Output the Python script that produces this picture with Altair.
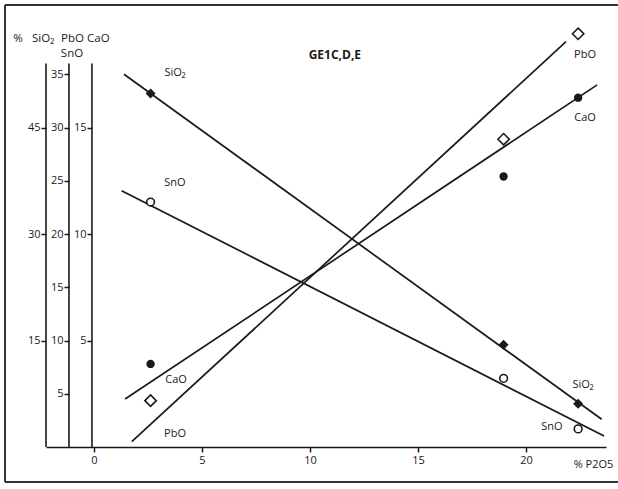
import altair as alt
import pandas as pd

FONT = "Open Sans"
INK = "#1a1a1a"

# P2O5 content (%) of the three samples
p2o5 = [2.62, 18.96, 22.41]
# oxide contents (%) of the samples
sio2 = [49.8, 14.4, 6.1]
sno = [23.0, 6.45, 1.7]
cao = [3.9, 12.7, 16.4]
pbo = [4.35, 28.9, 38.8]

# fitted trend lines: end points (P2O5 %, oxide %)
fit_x = {"SiO₂": [1.39, 23.5], "SnO": [1.28, 23.61], "CaO": [1.44, 23.29], "PbO": [1.75, 21.85]}
fit_y = {"SiO₂": [52.5, 3.9], "SnO": [24.07, 1.03], "CaO": [2.25, 17.0], "PbO": [0.5, 38.06]}

# curve labels (P2O5 %, oxide %)
lab_x = {"SiO₂": [3.75, 22.64], "SnO": [3.75, 21.2], "CaO": [3.8, 22.73], "PbO": [3.75, 22.73]}
lab_y = {"SiO₂": [52.7, 8.7], "SnO": [24.8, 1.88], "CaO": [3.15, 15.45], "PbO": [1.22, 36.8]}

# axis scales
x_domain = [-2.22, 23.7]
x_ticks = [0, 5, 10, 15, 20]
sio2_domain, sio2_ticks = [0, 60], [15, 30, 45]
pbo_domain, pbo_ticks = [0, 40], [5, 10, 15, 20, 25, 30, 35]
cao_domain, cao_ticks = [0, 20], [5, 10, 15]
axis_pos = [-2.22, -1.157, -0.093]   # P2O5 positions of the SiO2, PbO/SnO, CaO axes
axis_top = 36.0                      # top of the axis lines (PbO units)

W, H = 560, 426


def off(xpos):
    return -round((xpos - x_domain[0]) / (x_domain[1] - x_domain[0]) * W)


x_axis = alt.Axis(values=x_ticks, title="% P2O5", titleX=547, titleY=17, titleAlign="center",
                  titleBaseline="middle", titleFontWeight="normal", titleFontSize=11, titleFont=FONT,
                  titleColor=INK, tickSize=5, tickWidth=1.5, tickColor=INK, labelPadding=2,
                  domainColor=INK, domainWidth=1.6, grid=False, labelFontSize=11, labelFont=FONT,
                  labelColor=INK, format="d")
xenc = alt.X("x:Q", scale=alt.Scale(domain=x_domain, nice=False, zero=False), axis=x_axis)


def y_axis(ticks, xpos):
    return alt.Axis(orient="left", offset=off(xpos), values=ticks, domain=False, tickSize=5,
                    tickWidth=1.5, tickColor=INK, labelPadding=1, grid=False, title="",
                    labelFontSize=11, labelFont=FONT, labelColor=INK, format="d")


def series(name, vals, domain, shape, filled, size, axis):
    yenc = alt.Y("y:Q", scale=alt.Scale(domain=domain, nice=False, zero=False), axis=axis)
    line = alt.Chart(pd.DataFrame({"x": fit_x[name], "y": fit_y[name]})).mark_line(
        color=INK, strokeWidth=1.7).encode(x=xenc, y=yenc)
    pts = alt.Chart(pd.DataFrame({"x": p2o5, "y": vals})).mark_point(
        shape=shape, filled=filled, size=size, color=INK, strokeWidth=1.6,
        fill=INK if filled else "white", opacity=1).encode(x=xenc, y=yenc)
    labs = alt.Chart(pd.DataFrame({"x": lab_x[name], "y": lab_y[name], "t": [name, name]})).mark_text(
        font=FONT, fontSize=11, color=INK, align="center", baseline="middle").encode(
        x=xenc, y=yenc, text="t:N")
    return alt.layer(line, pts, labs)


l_sio2 = series("SiO₂", sio2, sio2_domain, "diamond", True, 100, y_axis(sio2_ticks, axis_pos[0]))
l_sno = series("SnO", sno, pbo_domain, "circle", False, 60, None)
l_cao = series("CaO", cao, cao_domain, "circle", True, 70, y_axis(cao_ticks, axis_pos[2]))
l_pbo = series("PbO", pbo, pbo_domain, "diamond", False, 130, y_axis(pbo_ticks, axis_pos[1]))

# vertical axis lines and title (PbO units)
y_plain = alt.Y("y:Q", scale=alt.Scale(domain=pbo_domain, nice=False, zero=False), axis=None)
axis_lines = alt.Chart(pd.DataFrame({"x": axis_pos, "y": [0] * 3, "y2": [axis_top] * 3})).mark_rule(
    color=INK, strokeWidth=1.6).encode(x=xenc, y=y_plain, y2="y2:Q")
title = alt.Chart(pd.DataFrame({"x": [11.15], "y": [36.8], "t": ["GE1C,D,E"]})).mark_text(
    font=FONT, fontSize=12, fontWeight="bold", color=INK, align="center", baseline="middle").encode(
    x=xenc, y=y_plain, text="t:N")
decor = alt.layer(axis_lines, title)

# outer frame (left, top, bottom edges) and header of the vertical axes
one = pd.DataFrame({"a": [0]})
edges = []
for ex, ex2, ey, ey2 in [(-41, -41, -16, 461), (-41, 572, -16, -16), (-41, 572, 461, 461)]:
    edges.append(alt.Chart(one).mark_rule(color="#333", strokeWidth=2).encode(
        x=alt.value(ex), x2=alt.value(ex2), y=alt.value(ey), y2=alt.value(ey2)))
hdr = []
for txt, hx, hy, al in [("%", -28, 18, "center"), ("SiO₂", -14, 18, "left"), ("PbO", 15, 18, "left"),
                        ("CaO", 41, 18, "left"), ("SnO", 26, 33, "center")]:
    hdr.append(alt.Chart(one).mark_text(font=FONT, fontSize=11.5, color=INK, align=al,
                                        baseline="middle", text=txt).encode(
        x=alt.value(hx), y=alt.value(hy)))
frame_layer = alt.layer(*edges, *hdr)

chart = alt.layer(l_sio2, l_sno, l_cao, l_pbo, decor, frame_layer).resolve_scale(
    y="independent"
).properties(
    width=W, height=H,
    padding={"left": 46, "top": 21, "right": 12, "bottom": 36},
    autosize=alt.AutoSizeParams(type="none"),
    background="white",
).configure_view(stroke=None)

chart.save("out.html", embed_options={"renderer": "svg", "actions": False})
